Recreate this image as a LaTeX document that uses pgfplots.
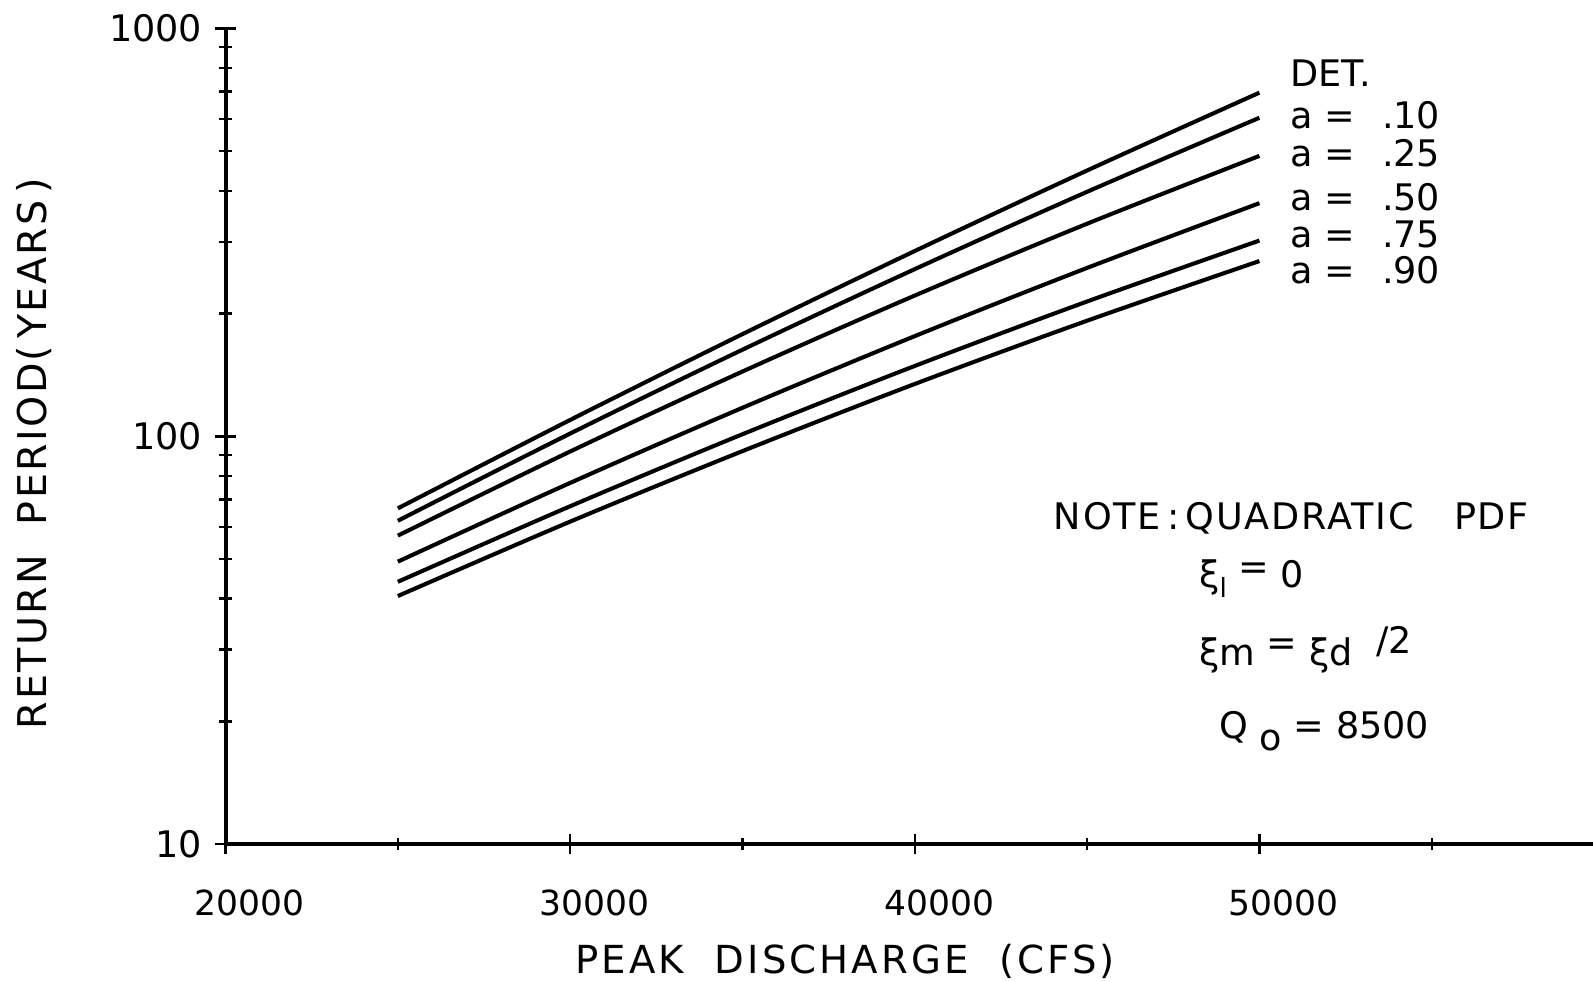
\documentclass[border=0pt]{standalone}
\usepackage{fontspec}
\setmainfont{DejaVu Sans}
\usepackage{pgfplots}
\pgfplotsset{compat=1.18}
\begin{document}
\begin{tikzpicture}
\useasboundingbox (-111pt,-67.5pt) rectangle (673pt,415.5pt);
\begin{axis}[
  at={(0,0)}, anchor=south west,
  scale only axis, width=673pt, height=401.5pt,
  xmin=20000, xmax=59680, ymode=log, ymin=10, ymax=1000,
  axis lines=left, axis line style={-, line width=2pt, black},
  xtick={20000,30000,40000,50000}, xticklabels={20000,30000,40000,50000},
  minor xtick={25000,35000,45000,55000},
  scaled x ticks=false,
  ytick={10,100,1000}, yticklabels={10,100,1000},
  minor ytick={20,30,40,50,60,70,80,90,200,300,400,500,600,700,800,900},
  tick align=center, major tick length=10pt, minor tick length=6pt,
  every tick/.style={line width=1.2pt, black},
  xticklabel style={font=\fontsize{17}{17}\selectfont, xshift=12pt, yshift=-14pt},
  yticklabel style={font=\fontsize{18}{18}\selectfont, xshift=-3pt},
  clip=false,
]
\addplot[black, line width=2pt, smooth] coordinates {(25000,66.6) (30000,109.7) (35000,178.1) (40000,284.7) (45000,448.5) (50000,696)};
\addplot[black, line width=2pt, smooth] coordinates {(25000,62.1) (30000,101.6) (35000,163.1) (40000,257.0) (45000,397.7) (50000,604)};
\addplot[black, line width=2pt, smooth] coordinates {(25000,57.1) (30000,91.8) (35000,144.2) (40000,221.4) (45000,332.1) (50000,487)};
\addplot[black, line width=2pt, smooth] coordinates {(25000,49.3) (30000,76.9) (35000,117.5) (40000,176.1) (45000,258.8) (50000,373)};
\addplot[black, line width=2pt, smooth] coordinates {(25000,44.0) (30000,67.4) (35000,101.2) (40000,148.8) (45000,214.1) (50000,302)};
\addplot[black, line width=2pt, smooth] coordinates {(25000,40.6) (30000,61.8) (35000,92.0) (40000,134.4) (45000,192.1) (50000,269)};
\end{axis}
% axis titles
\node[rotate=90, font=\fontsize{19.5}{19.5}\selectfont\addfontfeature{LetterSpace=6}] at (-94pt,192pt) {RETURN\ \ PERIOD(\,YEARS\,)};
\node[font=\fontsize{19}{19}\selectfont\addfontfeature{LetterSpace=8}] at (305pt,-57.5pt) {PEAK\ \ DISCHARGE\ \ (CFS)};
% legend labels
\begin{scope}[every node/.style={inner sep=0pt, anchor=base west, font=\fontsize{18}{18}\selectfont}]
\node at (524pt,373pt) {DET.};
\node at (524pt,352.5pt) {a =}; \node at (569pt,352.5pt) {.10};
\node at (524pt,333.5pt) {a =}; \node at (569pt,333.5pt) {.25};
\node at (524pt,312pt) {a =}; \node at (569pt,312pt) {.50};
\node at (524pt,293.5pt) {a =}; \node at (569pt,293.5pt) {.75};
\node at (524pt,276pt) {a =}; \node at (569pt,276pt) {.90};
\node[font=\fontsize{18}{18}\selectfont\addfontfeature{LetterSpace=5}] at (407.5pt,155pt) {NOTE\,:\,QUADRATIC\ \ \ PDF};
\node at (479pt,126.5pt) {ξ\raisebox{-0.5ex}{\fontsize{13}{13}\selectfont l}\ \raisebox{0.4ex}{=}\ 0};
\node at (479pt,88pt) {ξm\ \raisebox{0.5ex}{=}\ ξd\ \ \raisebox{0.6ex}{/2}};
\node at (489pt,52pt) {Q\ \raisebox{-0.6ex}{o}\ =\ 8500};
\end{scope}
\end{tikzpicture}
\end{document}
